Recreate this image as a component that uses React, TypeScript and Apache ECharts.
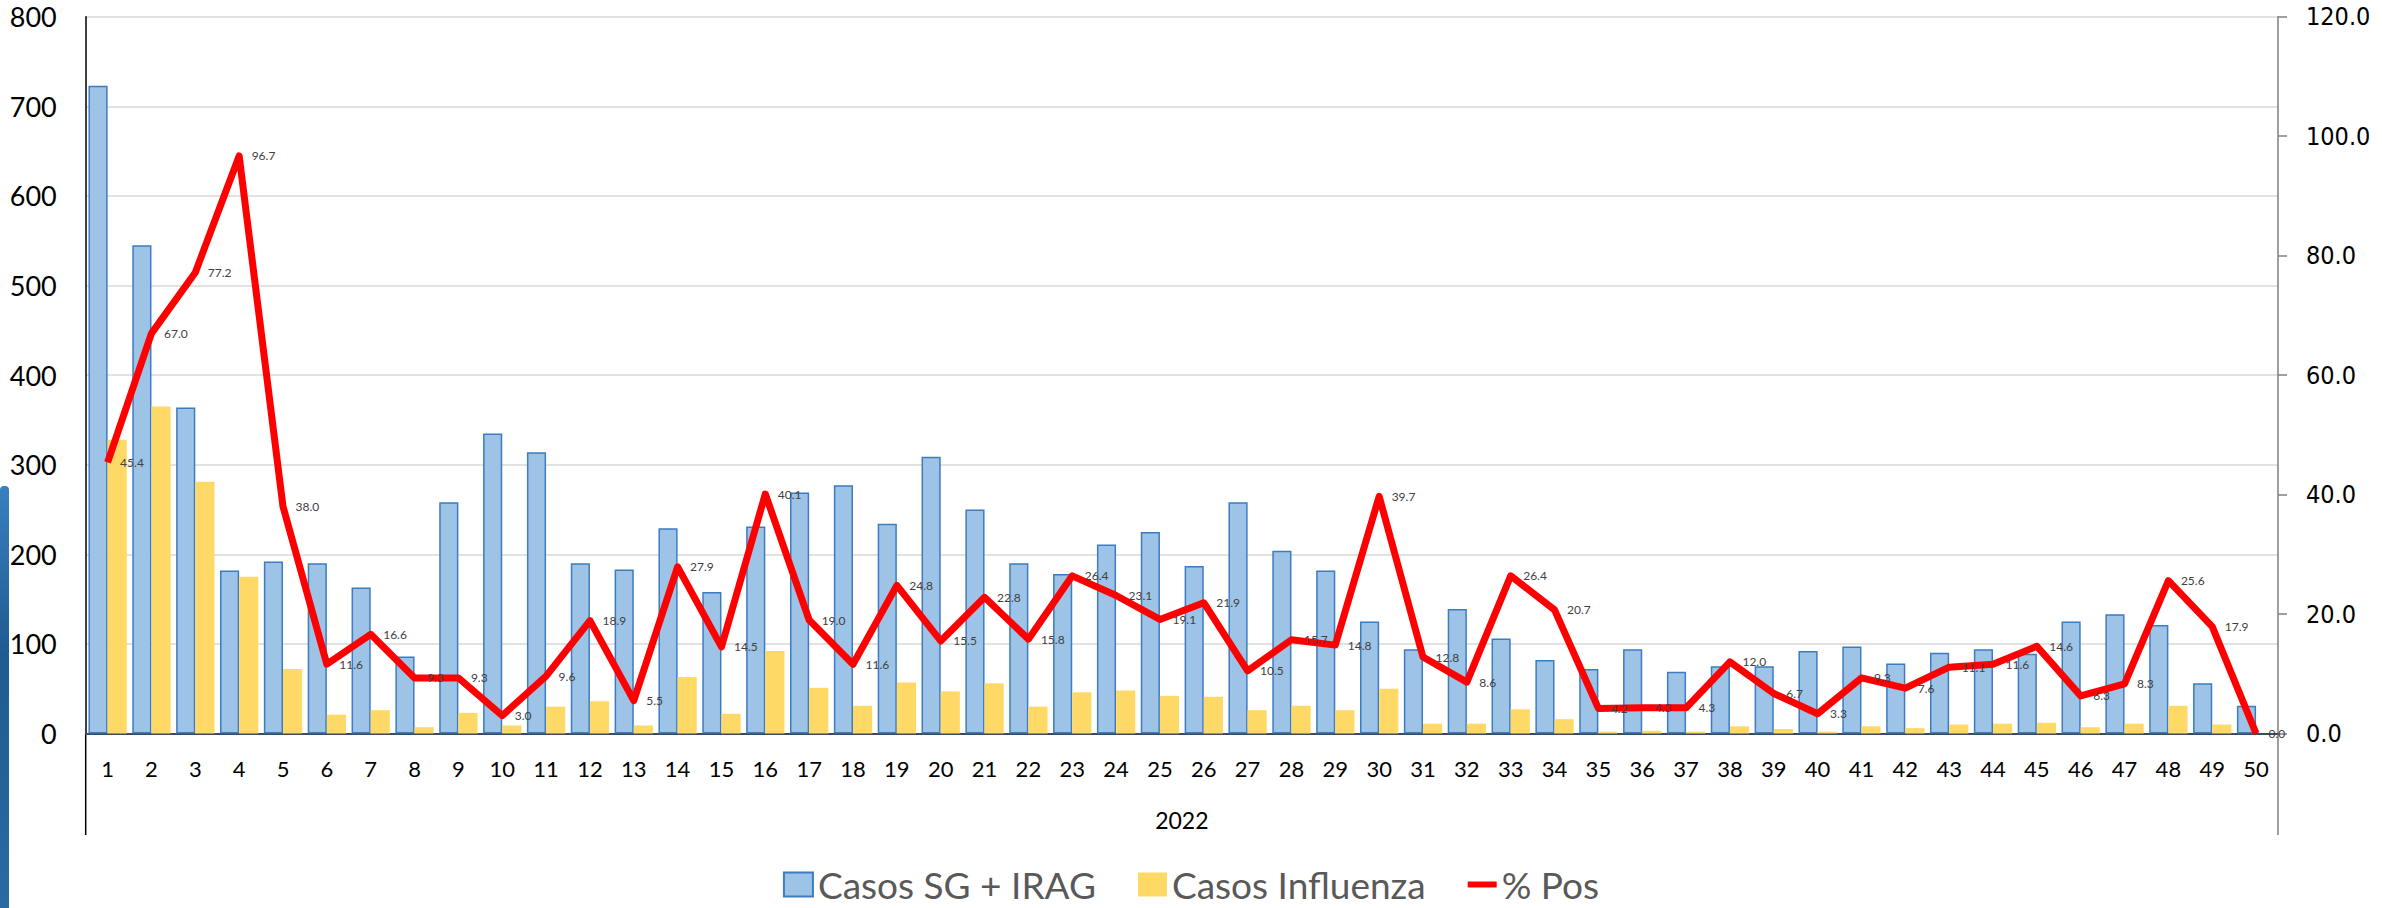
import React, { useEffect, useRef } from "react";
import * as echarts from "echarts";

const weeks = [
  "1", "2", "3", "4", "5", "6", "7", "8", "9", "10",
  "11", "12", "13", "14", "15", "16", "17", "18", "19", "20",
  "21", "22", "23", "24", "25", "26", "27", "28", "29", "30",
  "31", "32", "33", "34", "35", "36", "37", "38", "39", "40",
  "41", "42", "43", "44", "45", "46", "47", "48", "49", "50",
];

const casosSG = [
  723, 545, 364, 182, 192, 190, 163, 86, 258, 335,
  314, 190, 183, 229, 158, 231, 269, 277, 234, 309,
  250, 190, 178, 211, 225, 187, 258, 204, 182, 125,
  94, 139, 106, 82, 72, 94, 69, 75, 75, 92,
  97, 78, 90, 94, 89, 125, 133, 121, 56, 31,
];

const casosInfluenza = [
  328, 365, 281, 175, 72, 21, 26, 7, 23, 9,
  30, 36, 9, 63, 22, 92, 51, 31, 57, 47,
  56, 30, 46, 48, 42, 41, 26, 31, 26, 50,
  11, 11, 27, 16, 2, 3, 2, 8, 5, 2,
  8, 6, 10, 11, 12, 7, 11, 31, 10, 0,
];

const pctPos = [
  45.4, 67.0, 77.2, 96.7, 38.0, 11.6, 16.6, 9.3, 9.3, 3.0,
  9.6, 18.9, 5.5, 27.9, 14.5, 40.1, 19.0, 11.6, 24.8, 15.5,
  22.8, 15.8, 26.4, 23.1, 19.1, 21.9, 10.5, 15.7, 14.8, 39.7,
  12.8, 8.6, 26.4, 20.7, 4.2, 4.3, 4.3, 12.0, 6.7, 3.3,
  9.3, 7.6, 11.1, 11.6, 14.6, 6.3, 8.3, 25.6, 17.9, 0.0,
];

const yearLabel = "2022";
const seriesNames = ["Casos SG + IRAG", "Casos Influenza", "% Pos"];

export default function App() {
  const ref = useRef<HTMLDivElement>(null);

  useEffect(() => {
    document.body.style.margin = "0";
    const chart = echarts.init(ref.current!, null, { renderer: "svg" });
    const W = 2382;
    const H = 908;
    const plotLeft = 85.7;
    const plotRight = 2278;
    const plotTop = 16.8;
    const plotBottom = 733.5;

    const pctLabel = {
      show: true,
      position: "right",
      distance: 12,
      fontFamily: "Lato",
      fontSize: 12,
      color: "#404040",
      formatter: (p: any) => Number(p.value).toFixed(1),
    };

    chart.setOption({
      animation: false,
      backgroundColor: "#ffffff",
      grid: {
        left: plotLeft,
        right: W - plotRight,
        top: plotTop,
        bottom: H - plotBottom,
        containLabel: false,
      },
      legend: {
        left: "center",
        top: 866,
        padding: 0,
        itemWidth: 29,
        itemHeight: 24,
        itemGap: 42,
        symbolKeepAspect: true,
        textStyle: { fontFamily: "Lato", fontSize: 37, lineHeight: 37, color: "#595959" },
        data: [
          { name: seriesNames[0], icon: "rect" },
          { name: seriesNames[1], icon: "rect" },
          { name: seriesNames[2], icon: "path://M0,0H34V7H0Z" },
        ],
      },
      xAxis: {
        type: "category",
        data: weeks,
        axisLine: { lineStyle: { color: "#3b4a5c", width: 2 } },
        axisTick: { show: false },
        axisLabel: {
          fontFamily: "Lato",
          fontSize: 22,
          lineHeight: 22,
          color: "#000000",
          margin: 24,
          interval: 0,
        },
      },
      yAxis: [
        {
          type: "value",
          min: 0,
          max: 800,
          interval: 100,
          axisLine: { show: true, lineStyle: { color: "#000000", width: 1.5 } },
          axisTick: { show: false },
          axisLabel: { fontFamily: "Lato", fontSize: 27, color: "#000000", margin: 29 },
          splitLine: { lineStyle: { color: "#d9d9d9", width: 1.5 } },
        },
        {
          type: "value",
          position: "right",
          min: 0,
          max: 120,
          interval: 20,
          axisLine: { show: true, lineStyle: { color: "#7f7f7f", width: 1.5 } },
          axisTick: { show: true, inside: false, length: 9, lineStyle: { color: "#7f7f7f", width: 1.5 } },
          axisLabel: {
            fontFamily: "'DejaVu Sans Condensed', 'Open Sans', sans-serif",
            fontSize: 25,
            color: "#000000",
            margin: 28,
            formatter: (v: number) => v.toFixed(1),
          },
          splitLine: { show: false },
        },
      ],
      series: [
        {
          name: seriesNames[0],
          type: "bar",
          data: casosSG,
          barGap: "0%",
          barCategoryGap: "12.6%",
          itemStyle: { color: "#9dc3e6", borderColor: "#3d7cc0", borderWidth: 1.5 },
        },
        {
          name: seriesNames[1],
          type: "bar",
          data: casosInfluenza,
          barGap: "0%",
          barCategoryGap: "12.6%",
          itemStyle: { color: "#ffd966" },
        },
        {
          name: seriesNames[2],
          type: "line",
          yAxisIndex: 1,
          data: pctPos,
          symbol: "none",
          showSymbol: false,
          z: 5,
          lineStyle: { color: "#ff0000", width: 7, join: "round" },
          itemStyle: { color: "#ff0000" },
        },
        {
          name: "% Pos etiquetas",
          type: "line",
          yAxisIndex: 1,
          data: pctPos,
          symbol: "circle",
          symbolSize: 1,
          showSymbol: true,
          showAllSymbol: true,
          silent: true,
          z: 10,
          lineStyle: { opacity: 0, width: 0 },
          itemStyle: { color: "rgba(0,0,0,0)" },
          label: pctLabel,
        },
      ],
      graphic: [
        {
          type: "rect",
          left: 0,
          top: 486,
          shape: { x: 0, y: 0, width: 9, height: 422, r: [4, 4, 0, 0] },
          style: {
            fill: new echarts.graphic.LinearGradient(0, 0, 0, 1, [
              { offset: 0, color: "#3a7fbf" },
              { offset: 0.4, color: "#1f5a92" },
              { offset: 1, color: "#2a6aa3" },
            ]),
          },
        },
        {
          type: "line",
          shape: { x1: plotLeft, y1: plotBottom, x2: plotLeft, y2: 835 },
          style: { stroke: "#000000", lineWidth: 1.5 },
        },
        {
          type: "line",
          shape: { x1: plotRight, y1: plotBottom, x2: plotRight, y2: 835 },
          style: { stroke: "#7f7f7f", lineWidth: 1.5 },
        },
        {
          type: "text",
          x: (plotLeft + plotRight) / 2,
          y: 820,
          style: {
            text: yearLabel,
            fontFamily: "Lato",
            fontSize: 23,
            fill: "#000000",
            align: "center",
            verticalAlign: "middle",
          },
        },
      ],
    });

    return () => chart.dispose();
  }, []);

  return <div ref={ref} style={{ width: 2382, height: 908 }} />;
}
